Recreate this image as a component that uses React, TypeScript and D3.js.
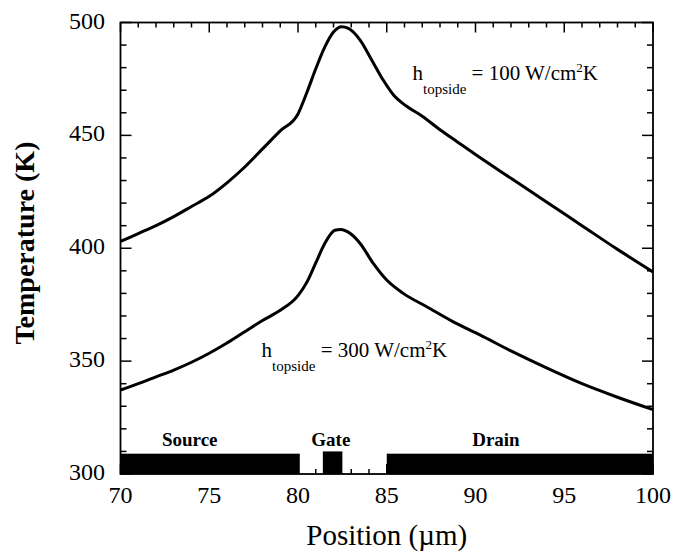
import React from 'react';
import * as d3 from 'd3';

// ---- data ----
const upperX = [70, 71, 72, 73, 74, 75, 76, 77, 78, 79, 80, 80.5, 81, 81.5, 82, 82.46, 82.84, 83.5, 84.15, 84.8, 85.37, 86.1, 87, 88, 89, 90, 92, 94, 96, 98, 100];
const upperT = [403, 406.5, 410, 414, 418.5, 423, 429, 436, 444, 452, 459.5, 469, 479.5, 489, 495.8, 498.1, 497.4, 492.2, 483.4, 474.5, 468, 463, 458.5, 452.5, 447, 441.5, 431, 420.5, 410, 399.5, 389.5];

const lowerX = [70, 71, 72, 73, 74, 75, 76, 77, 78, 79, 80, 80.5, 81, 81.5, 82.08, 82.4, 82.93, 83.49, 84.24, 85, 85.93, 87.25, 88.75, 90.25, 92, 94, 96, 98, 100];
const lowerT = [337.2, 340, 343, 346, 349.5, 353.5, 358, 363, 368, 372.5, 379, 385, 393.5, 402, 408, 408.3, 406.6, 402.2, 393.3, 385.9, 380, 374.1, 367.4, 361.6, 354.5, 347, 340, 334, 328.5];

const xTickValues = [70, 75, 80, 85, 90, 95, 100];
const yTickValues = [300, 350, 400, 450, 500];

const regionNames = ['Source', 'Gate', 'Drain'];
const regionStart = [70, 81.4, 85];
const regionEnd = [80.1, 82.5, 100];
const regionTop = [309, 310, 309];
const regionLabelX = [73.9, 81.85, 91.15];

const annotationValues = ['100', '300'];
const annotationX = [86.45, 77.95];
const annotationT = [474.5, 351.9];

const W = 689;
const H = 552;
const L = 120.5, R = 653, T = 22.5, B = 474;

const FONT = '"Liberation Serif", "Times New Roman", serif';

export default function App() {
  const x = d3.scaleLinear().domain([70, 100]).range([L, R]);
  const y = d3.scaleLinear().domain([300, 500]).range([B, T]);

  const line = d3
    .line<[number, number]>()
    .x((d) => x(d[0]))
    .y((d) => y(d[1]))
    .curve(d3.curveMonotoneX);

  const upper = upperX.map((v, i) => [v, upperT[i]] as [number, number]);
  const lower = lowerX.map((v, i) => [v, lowerT[i]] as [number, number]);

  const xMinor = d3.range(70, 100.001, 1);
  const yMinor = d3.range(300, 500.001, 10);

  return (
    <svg
      width={W}
      height={H}
      style={{ position: 'absolute', left: 0, top: 0, background: '#fff' }}
      fontFamily={FONT}
    >
      <rect x={0} y={0} width={W} height={H} fill="#fff" />
      {/* ticks */}
      <g stroke="#000" strokeWidth={1.5}>
        {xMinor.map((v) => {
          const major = Math.abs(v % 5) < 1e-6;
          const len = major ? 10 : 5;
          return (
            <g key={'xt' + v}>
              <line x1={x(v)} x2={x(v)} y1={B} y2={B - len} />
              <line x1={x(v)} x2={x(v)} y1={T} y2={T + len} />
            </g>
          );
        })}
        {yMinor.map((v) => {
          const major = Math.abs(v % 50) < 1e-6;
          const len = major ? 11 : 6;
          return (
            <g key={'yt' + v}>
              <line x1={L} x2={L + len} y1={y(v)} y2={y(v)} />
              <line x1={R} x2={R - len} y1={y(v)} y2={y(v)} />
            </g>
          );
        })}
      </g>
      {/* frame */}
      <rect x={L} y={T} width={R - L} height={B - T} fill="none" stroke="#000" strokeWidth={1.8} />

      {/* device regions */}
      {regionNames.map((n, i) => (
        <rect
          key={n}
          x={x(regionStart[i])}
          y={y(regionTop[i])}
          width={x(regionEnd[i]) - x(regionStart[i])}
          height={y(300) - y(regionTop[i])}
          fill="#000"
        />
      ))}
      {regionNames.map((n, i) => (
        <text
          key={'l' + n}
          x={x(regionLabelX[i])}
          y={446}
          textAnchor="middle"
          fontSize={19}
          fontWeight="bold"
        >
          {n}
        </text>
      ))}

      {/* curves */}
      <path d={line(upper) || ''} fill="none" stroke="#000" strokeWidth={3} strokeLinejoin="round" />
      <path d={line(lower) || ''} fill="none" stroke="#000" strokeWidth={3} strokeLinejoin="round" />

      {/* annotations */}
      {annotationValues.map((v, i) => (
        <text key={'a' + v} x={x(annotationX[i])} y={y(annotationT[i])} fontSize={21}>
          <tspan>h</tspan>
          <tspan fontSize={15} dy={14}>topside</tspan>
          <tspan dy={-14}>{` = ${v} W/cm`}</tspan>
          <tspan fontSize={13} dy={-8}>2</tspan>
          <tspan dy={8}>K</tspan>
        </text>
      ))}

      {/* tick labels */}
      {xTickValues.map((v) => (
        <text key={'xl' + v} x={x(v)} y={503} textAnchor="middle" fontSize={24}>
          {v}
        </text>
      ))}
      {yTickValues.map((v) => (
        <text key={'yl' + v} x={105} y={y(v) + 6} textAnchor="end" fontSize={24}>
          {v}
        </text>
      ))}

      {/* axis titles */}
      <text x={(L + R) / 2} y={545} textAnchor="middle" fontSize={29}>
        Position (µm)
      </text>
      <text
        transform={`translate(34, 243) rotate(-90)`}
        textAnchor="middle"
        fontSize={28}
        fontWeight="bold"
      >
        Temperature (K)
      </text>
    </svg>
  );
}
